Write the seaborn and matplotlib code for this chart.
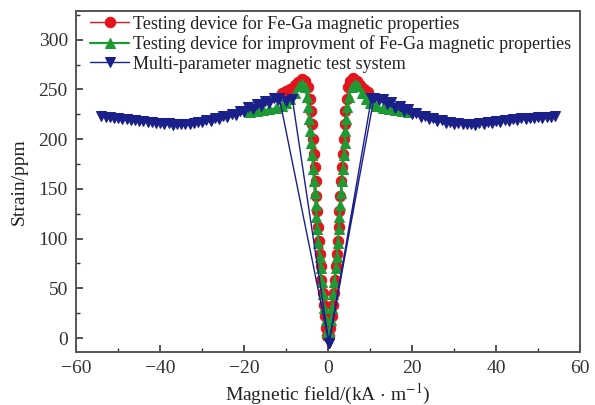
import matplotlib
matplotlib.use("Agg")
import matplotlib.pyplot as plt
from matplotlib.ticker import MultipleLocator
import seaborn as sns

# ── Data ───────────────────────────────────────────────────
# Testing device for Fe-Ga magnetic properties (red circles)
red_h = [-11.0, -10.0, -9.0, -8.0, -7.2, -6.3, -5.5, -4.8, -4.3, -4.0, -3.8, -3.6,
         -3.4, -3.2, -3.0, -2.8, -2.6, -2.4, -2.2, -2.0, -1.8, -1.6, -1.3, -1.0,
         -0.7, -0.4, -0.2,
         0.2, 0.5, 0.8, 1.1, 1.4, 1.7, 1.9, 2.1, 2.3, 2.5, 2.7, 2.9, 3.1, 3.3, 3.5,
         3.7, 3.9, 4.1, 4.4, 4.8, 5.3, 6.0, 6.8, 7.6, 8.5, 9.5]
red_s = [246, 248, 250, 254, 258, 261, 259, 252, 240, 228, 215, 200,
         185, 172, 158, 143, 128, 112, 98, 85, 72, 58, 45, 33,
         22, 10, 2,
         2, 10, 22, 33, 45, 58, 72, 85, 98, 112, 128, 143, 158, 172, 185,
         200, 215, 228, 240, 252, 259, 262, 259, 255, 250, 247]

# Testing device for improvment of Fe-Ga magnetic properties (green triangles)
green_h = [-18.5, -17.0, -15.5, -14.0, -12.5, -11.0, -10.0, -9.0, -8.0, -7.0, -6.2,
           -5.5, -5.0, -4.7, -4.5, -4.3, -4.1, -3.8, -3.6, -3.4, -3.2, -3.0, -2.8,
           -2.6, -2.3, -2.0, -1.8, -1.5, -1.2, -0.9, -0.6, -0.3,
           0.3, 0.6, 0.9, 1.2, 1.5, 1.8, 2.0, 2.3, 2.5, 2.7, 2.9, 3.1, 3.3, 3.5,
           3.7, 3.9, 4.1, 4.3, 4.6, 5.0, 5.6, 6.3, 7.0, 8.0, 9.0, 10.0, 11.5, 13.0,
           14.5, 16.0, 17.5, 19.0]
green_s = [227, 228, 229, 230, 231, 233, 236, 240, 246, 253, 256,
           252, 242, 232, 220, 208, 196, 184, 170, 158, 146, 134, 122,
           110, 96, 82, 70, 56, 44, 30, 18, 6,
           6, 18, 30, 44, 56, 70, 82, 96, 110, 122, 134, 146, 158, 170,
           184, 196, 208, 220, 232, 242, 252, 256, 253, 246, 240, 236, 233, 231,
           230, 229, 228, 227]

# Multi-parameter magnetic test system (blue triangles), in scan order
blue_h = [0.2,
          10.9, 12, 14, 16, 18, 20, 22, 24, 26, 28, 30, 32, 34, 36, 38, 40, 42, 44,
          46, 48, 50, 52, 54,
          53, 51, 49, 47, 45, 43, 41, 39, 37, 35, 33, 31, 29, 27, 25, 23, 21, 19,
          17, 15, 13, 10.3,
          0.2,
          -8.5, -10, -12, -14, -16, -18, -20, -22, -24, -26, -28, -30, -32, -34,
          -36, -38, -40, -42, -44, -46, -48, -50, -52, -54,
          -53, -51, -49, -47, -45, -43, -41, -39, -37, -35, -33, -31, -29, -27,
          -25, -23, -21, -19, -17, -15, -13, -11.6,
          0.2]
blue_s = [-5,
          241, 239, 235, 231, 228, 225, 222, 220, 218, 216, 215, 215, 215, 216,
          217, 218, 219, 220, 221, 221, 222, 222, 223,
          222, 221, 221, 220, 219, 218, 217, 216, 215, 214, 215, 216, 217, 219,
          221, 223, 226, 230, 233, 237, 240, 241,
          -5,
          240, 238, 239, 236, 233, 230, 227, 224, 222, 220, 218, 217, 216, 215,
          215, 216, 216, 217, 218, 219, 220, 221, 222, 223,
          222, 221, 220, 219, 218, 217, 216, 215, 214, 215, 215, 217, 219, 221,
          223, 225, 228, 232, 235, 238, 241, 241,
          -5]

RED = "#e3141b"
GREEN = "#1e9a34"
BLUE = "#1b1f8a"

sns.set_style("ticks")
plt.rcParams.update({
    "font.family": ["Liberation Serif", "DejaVu Serif"],
    "mathtext.fontset": "stix",
    "axes.edgecolor": "#555555",
    "axes.linewidth": 1.4,
    "xtick.direction": "in",
    "ytick.direction": "in",
    "xtick.color": "#333333",
    "ytick.color": "#333333",
    "text.color": "#222222",
    "axes.labelcolor": "#222222",
})

fig = plt.figure(figsize=(5.95, 4.05), dpi=100)
ax = fig.add_axes([0.128, 0.131, 0.847, 0.842])

sns.lineplot(x=red_h, y=red_s, sort=False, estimator=None, ax=ax, color=RED,
             lw=1.0, marker="o", ms=7.5, mec=RED, mfc=RED,
             label="Testing device for Fe-Ga magnetic properties", zorder=2)
sns.lineplot(x=green_h, y=green_s, sort=False, estimator=None, ax=ax, color=GREEN,
             lw=1.6, marker="^", ms=6.5, mec=GREEN, mfc=GREEN,
             label="Testing device for improvment of Fe-Ga magnetic properties", zorder=3)
sns.lineplot(x=blue_h, y=blue_s, sort=False, estimator=None, ax=ax, color=BLUE,
             lw=1.0, marker="v", ms=7, mec=BLUE, mfc=BLUE,
             label="Multi-parameter magnetic test system", zorder=4)

ax.set_xlim(-60, 60)
ax.set_ylim(-14, 329)
ax.xaxis.set_major_locator(MultipleLocator(20))
ax.xaxis.set_minor_locator(MultipleLocator(10))
ax.yaxis.set_major_locator(MultipleLocator(50))
ax.yaxis.set_minor_locator(MultipleLocator(25))
ax.tick_params(which="major", length=5, width=1.2, labelsize=14, pad=6,
               top=False, right=False)
ax.tick_params(which="minor", length=3, width=1.0, top=False, right=False)
for s in ax.spines.values():
    s.set_visible(True)

ax.set_xlabel(r"Magnetic field/(kA $\cdot$ m$^{-1}$)", fontsize=14, labelpad=3)
ax.set_ylabel("Strain/ppm", fontsize=14, labelpad=8)

ax.legend(loc="upper left", bbox_to_anchor=(0.016, 1.005), frameon=False,
          fontsize=13, handlelength=2.2, handletextpad=0.2, labelspacing=0.15,
          borderpad=0.0, borderaxespad=0.3)

fig.savefig("out.png", dpi=100)
